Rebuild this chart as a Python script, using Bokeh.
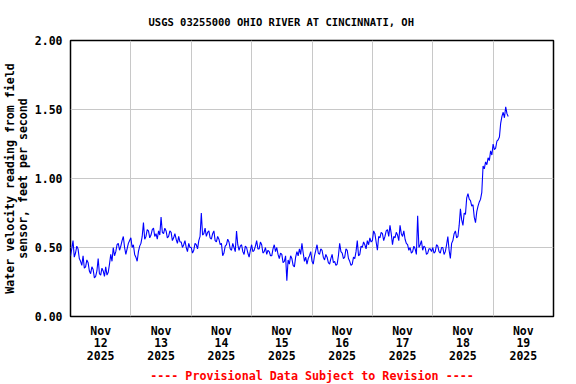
from bokeh.plotting import figure
from bokeh.models import Range1d, FixedTicker, Title
from bokeh.embed import file_html
from bokeh.resources import INLINE

# Half-hourly values (ft/s), starting Nov 12 2025 00:00
nov12 = [0.44, 0.49, 0.55, 0.43, 0.46, 0.51, 0.49, 0.42,
         0.40, 0.37, 0.44, 0.35, 0.36, 0.41, 0.39, 0.33,
         0.31, 0.36, 0.34, 0.28, 0.29, 0.33, 0.42, 0.31,
         0.30, 0.35, 0.33, 0.29, 0.36, 0.30, 0.32, 0.38,
         0.45, 0.40, 0.50, 0.44, 0.47, 0.52, 0.53, 0.48,
         0.51, 0.55, 0.58, 0.50, 0.45, 0.49, 0.53, 0.55]
nov13 = [0.57, 0.50, 0.52, 0.45, 0.43, 0.40, 0.47, 0.51,
         0.53, 0.58, 0.68, 0.56, 0.58, 0.63, 0.62, 0.57,
         0.59, 0.63, 0.64, 0.58, 0.60, 0.56, 0.62, 0.59,
         0.72, 0.61, 0.60, 0.64, 0.62, 0.57, 0.58, 0.62,
         0.61, 0.55, 0.57, 0.60, 0.56, 0.53, 0.58, 0.54,
         0.54, 0.50, 0.52, 0.55, 0.50, 0.47, 0.53, 0.50]
nov14 = [0.50, 0.46, 0.48, 0.53, 0.52, 0.49, 0.55, 0.58,
         0.75, 0.59, 0.60, 0.64, 0.58, 0.61, 0.62, 0.57,
         0.56, 0.60, 0.62, 0.55, 0.54, 0.58, 0.56, 0.52,
         0.53, 0.44, 0.46, 0.51, 0.52, 0.56, 0.54, 0.49,
         0.48, 0.53, 0.50, 0.47, 0.62, 0.52, 0.48, 0.51,
         0.52, 0.47, 0.45, 0.51, 0.50, 0.46, 0.43, 0.48]
nov15 = [0.52, 0.47, 0.48, 0.51, 0.55, 0.49, 0.49, 0.54,
         0.52, 0.46, 0.47, 0.50, 0.45, 0.48, 0.47, 0.44,
         0.44, 0.49, 0.52, 0.47, 0.50, 0.45, 0.42, 0.46,
         0.45, 0.39, 0.40, 0.44, 0.26, 0.41, 0.38, 0.44,
         0.42, 0.37, 0.36, 0.43, 0.47, 0.44, 0.49, 0.45,
         0.53, 0.46, 0.40, 0.43, 0.38, 0.42, 0.44, 0.47]
nov16 = [0.40, 0.38, 0.44, 0.48, 0.52, 0.46, 0.45, 0.49,
         0.48, 0.43, 0.41, 0.45, 0.43, 0.39, 0.38, 0.42,
         0.45, 0.39, 0.40, 0.37, 0.38, 0.44, 0.53, 0.47,
         0.46, 0.42, 0.43, 0.49, 0.48, 0.42, 0.40, 0.37,
         0.38, 0.43, 0.42, 0.47, 0.55, 0.44, 0.45, 0.51,
         0.50, 0.54, 0.52, 0.49, 0.55, 0.52, 0.57, 0.54]
nov17 = [0.55, 0.62, 0.60, 0.54, 0.48, 0.58, 0.57, 0.61,
         0.60, 0.55, 0.58, 0.62, 0.63, 0.58, 0.66, 0.60,
         0.52, 0.58, 0.57, 0.61, 0.59, 0.55, 0.66, 0.60,
         0.58, 0.62, 0.56, 0.53, 0.52, 0.48, 0.50, 0.46,
         0.47, 0.51, 0.49, 0.45, 0.73, 0.50, 0.52, 0.55,
         0.48, 0.51, 0.50, 0.45, 0.46, 0.49, 0.49, 0.47]
nov18 = [0.50, 0.46, 0.47, 0.52, 0.51, 0.47, 0.46, 0.50,
         0.50, 0.45, 0.47, 0.52, 0.58, 0.48, 0.42, 0.53,
         0.55, 0.60, 0.62, 0.57, 0.58, 0.66, 0.78, 0.70,
         0.66, 0.75, 0.74, 0.86, 0.89, 0.85, 0.84, 0.80,
         0.81, 0.72, 0.68, 0.76, 0.80, 0.83, 0.85, 0.90,
         1.09, 1.07, 1.12, 1.10, 1.15, 1.13, 1.20, 1.17]
nov19 = [1.25, 1.21, 1.22, 1.27, 1.28, 1.30, 1.40, 1.45,
         1.48, 1.44, 1.52, 1.47, 1.45]

values = nov12 + nov13 + nov14 + nov15 + nov16 + nov17 + nov18 + nov19
hours = [i * 0.5 for i in range(len(values))]

tick_hours = [12, 36, 60, 84, 108, 132, 156, 180]
tick_labels = ["Nov\n12\n2025", "Nov\n13\n2025", "Nov\n14\n2025", "Nov\n15\n2025",
               "Nov\n16\n2025", "Nov\n17\n2025", "Nov\n18\n2025", "Nov\n19\n2025"]
grid_hours = [24, 48, 72, 96, 120, 144, 168]
y_ticks = [0.0, 0.5, 1.0, 1.5, 2.0]

FONT = "DejaVu Sans Mono"

p = figure(frame_width=483, frame_height=276, output_backend="svg", toolbar_location=None,
           x_range=Range1d(0, 192), y_range=Range1d(0, 2),
           min_border_left=0, min_border_right=14, min_border_top=0,
           min_border_bottom=0)

p.line(hours, values, line_color="#0000ff", line_width=1.1)

p.outline_line_color = "black"
p.outline_line_width = 1.5
p.outline_line_alpha = 1.0

# x axis
p.xaxis.ticker = FixedTicker(ticks=tick_hours)
p.xaxis.major_label_overrides = dict(zip(tick_hours, tick_labels))
p.xaxis.axis_line_color = None
p.xaxis.major_tick_line_color = None
p.xaxis.minor_tick_line_color = None
p.xaxis.major_tick_out = 0
p.xaxis.major_tick_in = 0
p.xaxis.major_label_standoff = 7
p.xaxis.major_label_text_font = FONT
p.xaxis.major_label_text_font_style = "bold"
p.xaxis.major_label_text_font_size = "11.5px"
p.xaxis.major_label_text_line_height = 0.9
p.xaxis.major_label_text_color = "black"
p.xgrid.ticker = FixedTicker(ticks=grid_hours)
p.xgrid.grid_line_color = "#c8c8c8"
p.xgrid.grid_line_width = 1

# y axis
p.yaxis.ticker = FixedTicker(ticks=y_ticks)
p.yaxis.major_label_overrides = {t: f"{t:.2f}" for t in y_ticks}
p.yaxis.axis_line_color = None
p.yaxis.major_tick_line_color = None
p.yaxis.minor_tick_line_color = None
p.yaxis.major_tick_out = 0
p.yaxis.major_tick_in = 0
p.yaxis.major_label_standoff = 8
p.yaxis.major_label_text_font = FONT
p.yaxis.major_label_text_font_style = "bold"
p.yaxis.major_label_text_font_size = "11.5px"
p.yaxis.major_label_text_color = "black"
p.yaxis.axis_label = "Water velocity reading from field\nsensor, feet per second"
p.yaxis.axis_label_text_font = FONT
p.yaxis.axis_label_text_font_style = "bold"
p.yaxis.axis_label_text_font_size = "11.6px"
p.yaxis.axis_label_text_line_height = 0.9
p.yaxis.axis_label_text_color = "black"
p.yaxis.axis_label_standoff = 2
p.ygrid.ticker = FixedTicker(ticks=[0.5, 1.0, 1.5])
p.ygrid.grid_line_color = "#c8c8c8"
p.ygrid.grid_line_width = 1

p.add_layout(Title(text="USGS 03255000 OHIO RIVER AT CINCINNATI, OH", align="left",
                   offset=78, text_font=FONT, text_font_style="bold",
                   text_font_size="10.5px", text_color="black", standoff=26), "above")
p.add_layout(Title(text="---- Provisional Data Subject to Revision ----", align="center",
                   text_font=FONT, text_font_style="bold", text_font_size="11.7px",
                   text_color="#ff0000", standoff=2), "below")

p.background_fill_color = "white"
p.border_fill_color = "white"

open("out.html", "w").write(file_html(p, INLINE))
